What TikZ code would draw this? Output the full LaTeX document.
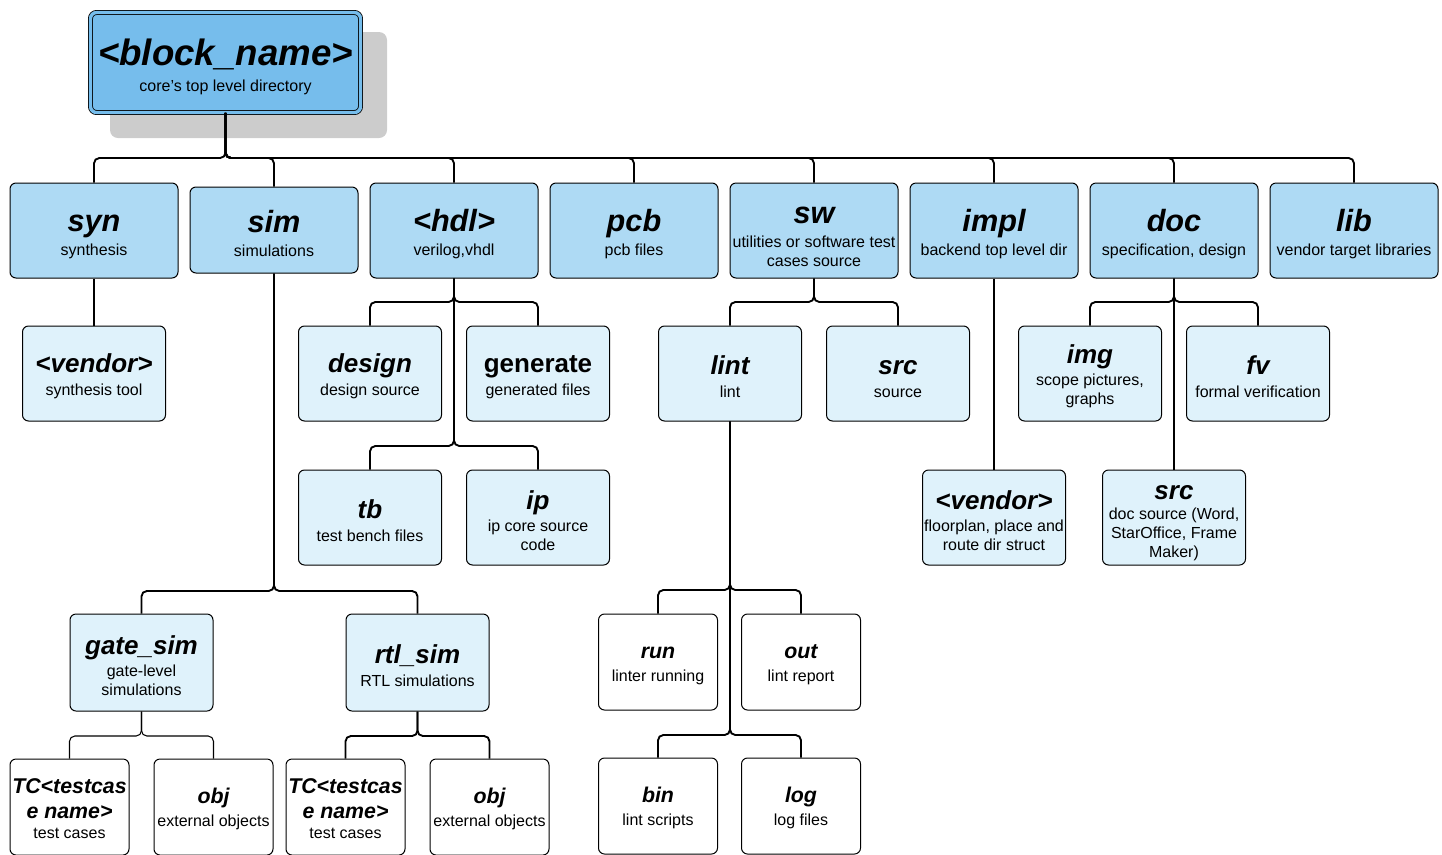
\documentclass[tikz,border=0pt]{standalone}
\usepackage{fontspec}
\setmainfont{Liberation Sans}
\usetikzlibrary{calc}
\definecolor{topblue}{RGB}{118,189,236}
\definecolor{midblue}{RGB}{174,218,244}
\definecolor{paleblue}{RGB}{223,242,251}
\definecolor{shadowgray}{RGB}{204,204,204}
\newcommand\TTop[1]{{\fontsize{27.5}{30}\selectfont\bfseries\itshape\rule{0pt}{\dimexpr0.75em+6pt\relax}#1}}
\newcommand\TA[1]{{\fontsize{23}{26}\selectfont\bfseries\itshape\rule{0pt}{\dimexpr0.75em+4.5pt\relax}#1}}
\newcommand\TB[1]{{\fontsize{19.5}{22}\selectfont\bfseries\itshape\rule{0pt}{\dimexpr0.75em+4pt\relax}#1}}
\newcommand\TBu[1]{{\fontsize{19.5}{22}\selectfont\bfseries\rule{0pt}{\dimexpr0.75em+4pt\relax}#1}}
\newcommand\TC[1]{{\fontsize{16}{19.5}\selectfont\bfseries\itshape\rule{0pt}{\dimexpr0.75em+2pt\relax}#1}}
\newcommand\TCn[1]{{\fontsize{16}{19.5}\selectfont\bfseries\itshape #1}}
\tikzset{
  box/.style={draw=black, line width=0.75pt, rounded corners=4.5pt, align=center, inner sep=1pt, font=\fontsize{12}{14.25}\selectfont},
  lvA/.style={box, fill=midblue, minimum width=126pt, minimum height=71.25pt},
  lvB/.style={box, fill=paleblue, minimum width=107.25pt, minimum height=71.25pt},
  lvC/.style={box, fill=white, minimum width=89.25pt, minimum height=72pt},
  tree/.style={line width=1.4pt, rounded corners=4pt},
  thinline/.style={line width=0.8pt, rounded corners=4pt}
}
\begin{document}
\begin{tikzpicture}[x=0.75pt,y=-0.75pt]
\useasboundingbox (0,0) rectangle (1442,854);
\clip (0,0) rectangle (1442,854);
% shadow and root
\fill[shadowgray, rounded corners=6pt] (110,32) rectangle (387,138);
\node[box, fill=topblue, draw=black, line width=0.6pt, double=topblue, double distance=2.5pt,
      minimum width=202.5pt, minimum height=75pt] (root) at (225.5,62.5)
      {\TTop{<block\_name>}\\[5pt]core’s top level directory};
% level 1
\node[lvA] (syn)  at (94,230.5)  {\TA{syn}\\[4pt]synthesis};
\node[lvA, minimum height=64.5pt] (sim)  at (274,230)  {\TA{sim}\\[4pt]simulations};
\node[lvA] (hdl)  at (454,230.5) {\TA{<hdl>}\\[4pt]verilog,vhdl};
\node[lvA] (pcb)  at (634,230.5) {\TA{pcb}\\[4pt]pcb files};
\node[lvA] (sw)   at (814,230.5) {\TA{sw}\\[4pt]utilities or software test\\cases source};
\node[lvA] (impl) at (994,230.5) {\TA{impl}\\[4pt]backend top level dir};
\node[lvA] (doc)  at (1174,230.5) {\TA{doc}\\[4pt]specification, design};
\node[lvA] (lib)  at (1354,230.5) {\TA{lib}\\[4pt]vendor target libraries};
% level 2
\node[lvB] (vendA)  at (94,373.5)    {\TB{<vendor>}\\[3pt]synthesis tool};
\node[lvB] (design) at (370,373.5)   {\TB{design}\\[3pt]design source};
\node[lvB] (gen)    at (538,373.5)   {\TBu{generate}\\[3pt]generated files};
\node[lvB] (lint)   at (730,373.5)   {\TB{lint}\\[3pt]lint};
\node[lvB] (src)    at (898,373.5)   {\TB{src}\\[3pt]source};
\node[lvB] (img)    at (1090,373.5)  {\TB{img}\\[2pt]scope pictures,\\graphs};
\node[lvB] (fv)     at (1258,373.5)  {\TB{fv}\\[3pt]formal verification};
% level 3
\node[lvB] (tb)     at (370,517.5)   {\TB{tb}\\[3pt]test bench files};
\node[lvB] (ip)     at (538,517.5)   {\TB{ip}\\[2pt]ip core source\\code};
\node[lvB] (vendB)  at (994,517.5)   {\TB{<vendor>}\\[2pt]floorplan, place and\\route dir struct};
\node[lvB] (srcB)   at (1174,517.5)  {\TB{src}\\[1pt]doc source (Word,\\StarOffice, Frame\\Maker)};
% level 4
\node[lvB, minimum height=72.75pt] (gate) at (141.5,662.5) {\TB{gate\_sim}\\[2pt]gate-level\\simulations};
\node[lvB, minimum height=72.75pt] (rtl)  at (417.5,662.5) {\TB{rtl\_sim}\\[3pt]RTL simulations};
\node[lvC] (run) at (658,662)  {\TC{run}\\[3pt]linter running};
\node[lvC] (out) at (801,662)  {\TC{out}\\[3pt]lint report};
% level 5
\node[lvC] (tcA)  at (69.5,807)  {\TC{TC<testcas}\\[4pt]\TCn{e name>}\\[1pt]test cases};
\node[lvC] (objA) at (213.5,807) {\TC{obj}\\[3pt]external objects};
\node[lvC] (tcB)  at (345.5,807) {\TC{TC<testcas}\\[4pt]\TCn{e name>}\\[1pt]test cases};
\node[lvC] (objB) at (489.5,807) {\TC{obj}\\[3pt]external objects};
\node[lvC] (bin)  at (658,806)   {\TC{bin}\\[3pt]lint scripts};
\node[lvC] (log)  at (801,806)   {\TC{log}\\[3pt]log files};
% bus levels
\coordinate (busR) at (0,158);
\coordinate (busH) at (0,302);
\coordinate (busHb) at (0,446);
\coordinate (busS) at (0,591);
\coordinate (busG) at (0,736);
\coordinate (busL) at (0,590);
\coordinate (busLb) at (0,735);
% connectors
\foreach \c in {syn,sim,hdl,pcb,sw,impl,doc,lib}
  \draw[tree] (root.south) -- (root.south |- busR) -| (\c.north);
\draw[thinline] (syn.south) -- (vendA.north);
\foreach \c in {design,gen}
  \draw[tree] (hdl.south) -- (hdl.south |- busH) -| (\c.north);
\foreach \c in {tb,ip}
  \draw[tree] (hdl.south) -- (hdl.south |- busHb) -| (\c.north);
\foreach \c in {lint,src}
  \draw[tree] (sw.south) -- (sw.south |- busH) -| (\c.north);
\foreach \c in {img,fv}
  \draw[tree] (doc.south) -- (doc.south |- busH) -| (\c.north);
\draw[tree] (doc.south) -- (srcB.north);
\draw[thinline] (impl.south) -- (vendB.north);
\foreach \c in {gate,rtl}
  \draw[tree] (sim.south) -- (sim.south |- busS) -| (\c.north);
\foreach \c in {tcA,objA}
  \draw[thinline] (gate.south) -- (gate.south |- busG) -| (\c.north);
\foreach \c in {tcB,objB}
  \draw[tree] (rtl.south) -- (rtl.south |- busG) -| (\c.north);
\foreach \c in {run,out}
  \draw[tree] (lint.south) -- (lint.south |- busL) -| (\c.north);
\foreach \c in {bin,log}
  \draw[tree] (lint.south) -- (lint.south |- busLb) -| (\c.north);
\end{tikzpicture}
\end{document}
